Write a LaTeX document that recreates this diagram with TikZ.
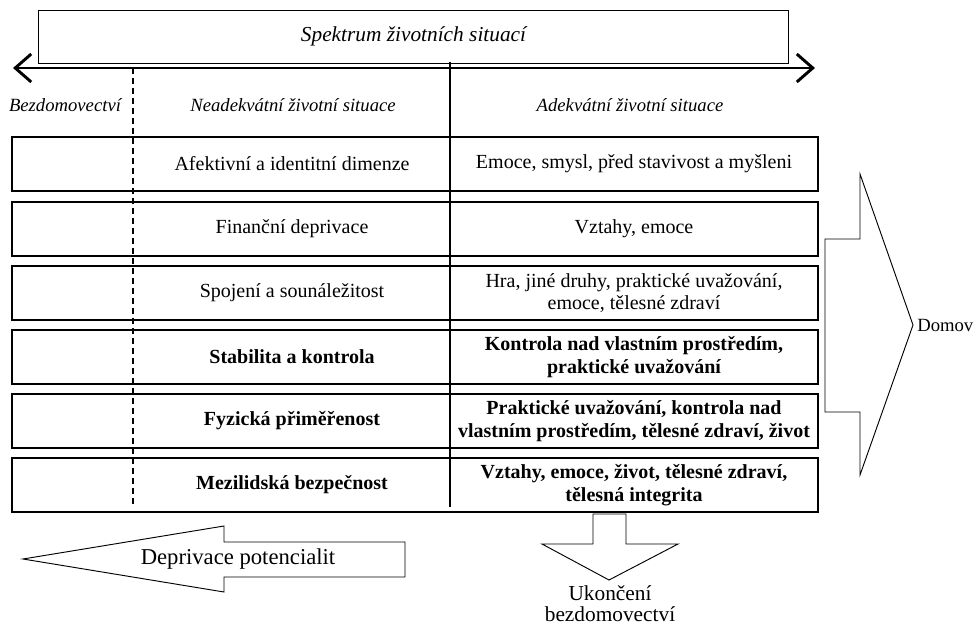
\documentclass[tikz,border=0pt]{standalone}
\usepackage{fontspec}
\setmainfont{Liberation Serif}
\usetikzlibrary{arrows.meta}

\tikzset{
  rowbox/.style={draw, line width=0.9pt, minimum width=604.5pt, minimum height=40.5pt, inner sep=0pt},
  cell/.style={align=center, inner sep=0pt, font=\fontsize{15}{17}\selectfont},
  boldcell/.style={cell, font=\fontsize{15}{17}\selectfont\bfseries},
  head/.style={inner sep=0pt, font=\fontsize{14}{16}\selectfont\itshape},
  blockarrow/.style={draw, line width=0.7pt, line join=miter}
}

\begin{document}
\begin{tikzpicture}[x=0.75pt, y=-0.75pt]
    \useasboundingbox (0,0) rectangle (977,627);

    \node[draw, line width=0.7pt, minimum width=563pt, minimum height=39.75pt, inner sep=0pt,
          font=\fontsize{16}{19}\selectfont\itshape] (spektrum) at (413.5,36.5) {Spektrum životních situací};

    \coordinate (specL) at (13,68);
    \coordinate (specR) at (815,68);
    \draw[line width=2.2pt, {Straight Barb[length=12pt,width=21pt]}-{Straight Barb[length=12pt,width=21pt]}] (specL) -- (specR);

    \node[head] (bezdom) at (65,105) {Bezdomovectví};
    \node[head] (neadek) at (293,105) {Neadekvátní životní situace};
    \node[head] (adek) at (630,105) {Adekvátní životní situace};

    \foreach \i/\y/\lt/\rt in {1/164/{Afektivní a identitní dimenze}/{Emoce, smysl, před stavivost a myšleni},
                               2/229/{Finanční deprivace}/{Vztahy, emoce},
                               3/293/{Spojení a sounáležitost}/{Hra, jiné druhy, praktické uvažování,\\ emoce, tělesné zdraví}}
        {
            \node[rowbox] (row\i) at (415,\y) {};
            \node[cell] (left\i) at (292,\y) {\lt};
            \node[cell] (right\i) at (634,\y) {\rt};
        }

    \foreach \i/\y/\lt/\rt in {4/357/{Stabilita a kontrola}/{Kontrola nad vlastním prostředím,\\ praktické uvažování},
                               5/421/{Fyzická přiměřenost}/{Praktické uvažování, kontrola nad\\ vlastním prostředím, tělesné zdraví, život},
                               6/485/{Mezilidská bezpečnost}/{Vztahy, emoce, život, tělesné zdraví,\\ tělesná integrita}}
        {
            \node[rowbox] (row\i) at (415,\y) {};
            \node[boldcell] (left\i) at (292,\y) {\lt};
            \node[boldcell] (right\i) at (634,\y) {\rt};
        }

    \coordinate (solidTop) at (450,62);
    \coordinate (solidBot) at (450,507);
    \coordinate (dashTop) at (133,68);
    \coordinate (dashBot) at (133,507);
    \draw[line width=0.8pt] (solidTop) -- (solidBot);
    \draw[line width=0.8pt, dash pattern=on 4.5pt off 3pt] (dashTop) -- (dashBot);

    \draw[blockarrow] (825,239) -- (860,239) -- (860,174) -- (913,325) -- (860,475) -- (860,412) -- (825,412) -- cycle;
    \node[anchor=west, inner sep=0pt, font=\fontsize{14}{16}\selectfont] (domov) at (917,325) {Domov};

    \draw[blockarrow] (23,559) -- (224,526) -- (224,542) -- (405,542) -- (405,577) -- (224,577) -- (224,592) -- cycle;
    \node[inner sep=0pt, font=\fontsize{17}{19}\selectfont] (depriv) at (238,559) {Deprivace potencialit};

    \draw[blockarrow] (593,514) -- (626,514) -- (626,544) -- (678,544) -- (609,580) -- (542,544) -- (593,544) -- cycle;
    \node[align=center, inner sep=0pt, font=\fontsize{16}{15.5}\selectfont] (ukonceni) at (610,604) {Ukončení\\ bezdomovectví};
\end{tikzpicture}
\end{document}
